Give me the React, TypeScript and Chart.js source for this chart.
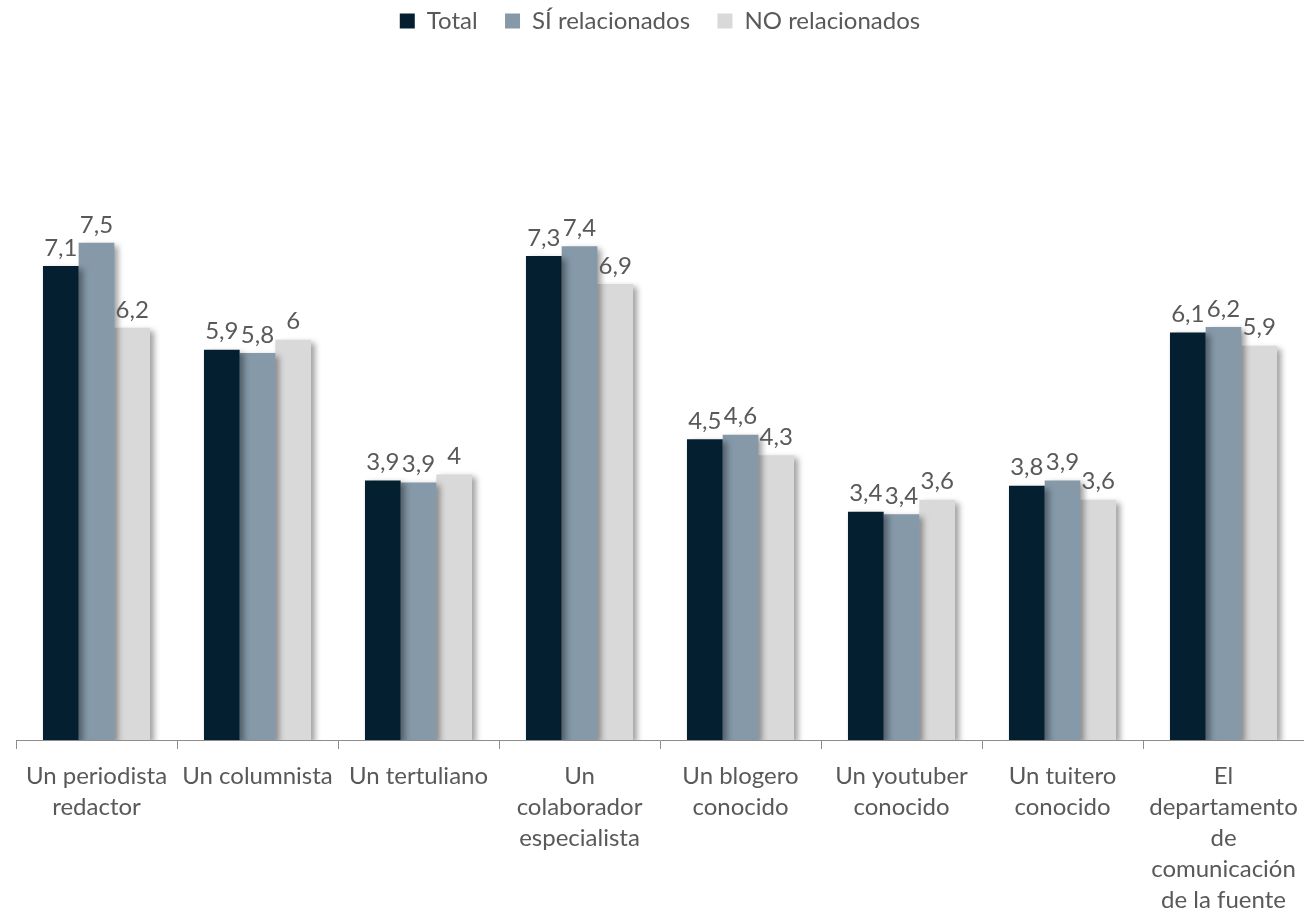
import React, { useEffect, useRef } from "react";
import { Chart, registerables } from "chart.js";

Chart.register(...registerables);

const categories: string[][] = [
  ["Un periodista", "redactor"],
  ["Un columnista"],
  ["Un tertuliano"],
  ["Un", "colaborador", "especialista"],
  ["Un blogero", "conocido"],
  ["Un youtuber", "conocido"],
  ["Un tuitero", "conocido"],
  ["El", "departamento", "de", "comunicación", "de la fuente"],
];

const seriesNames = ["Total", "SÍ relacionados", "NO relacionados"];
const totalValues = [7.14, 5.88, 3.91, 7.29, 4.53, 3.44, 3.83, 6.14];
const siValues = [7.49, 5.83, 3.88, 7.44, 4.6, 3.4, 3.91, 6.22];
const noValues = [6.21, 6.03, 4.0, 6.87, 4.29, 3.62, 3.62, 5.94];
const seriesColors = ["#031F30", "#8599A8", "#D9D9D9"];

const FONT = "Lato, 'Noto Sans', sans-serif";
const TEXT_COLOR = "#595959";

function fmt(v: number): string {
  const r = Math.round(v * 10) / 10;
  return String(r).replace(".", ",");
}

const shadowLabelPlugin = {
  id: "shadowLabels",
  beforeDatasetsDraw(chart: any) {
    const ctx = chart.ctx;
    ctx.save();
    ctx.shadowColor = "rgba(0,0,0,0.38)";
    ctx.shadowBlur = 6;
    ctx.shadowOffsetX = 4;
    ctx.shadowOffsetY = 3;
  },
  afterDatasetsDraw(chart: any) {
    const ctx = chart.ctx;
    ctx.restore();
    ctx.save();
    ctx.fillStyle = TEXT_COLOR;
    ctx.font = `24px ${FONT}`;
    ctx.textAlign = "center";
    ctx.textBaseline = "bottom";
    chart.data.datasets.forEach((ds: any, i: number) => {
      const meta = chart.getDatasetMeta(i);
      meta.data.forEach((el: any, j: number) => {
        ctx.fillText(fmt(ds.data[j]), el.x, el.y - 6);
      });
    });
    ctx.restore();
  },
};

export default function App() {
  const ref = useRef<HTMLCanvasElement | null>(null);
  useEffect(() => {
    if (!ref.current) return;
    const chart = new Chart(ref.current, {
      type: "bar",
      data: {
        labels: categories,
        datasets: [totalValues, siValues, noValues].map((d, i) => ({
          label: seriesNames[i],
          data: d,
          backgroundColor: seriesColors[i],
          borderWidth: 0,
          categoryPercentage: 0.665,
          barPercentage: 1,
        })),
      },
      options: {
        animation: false,
        responsive: true,
        maintainAspectRatio: false,
        layout: { padding: { left: 16, right: 0, top: 0, bottom: 0 } },
        plugins: {
          legend: {
            position: "top",
            labels: {
              boxWidth: 15,
              boxHeight: 15,
              padding: 9,
              color: TEXT_COLOR,
              font: { family: FONT, size: 24 },
              generateLabels(chart: any) {
                const items = Chart.defaults.plugins.legend.labels.generateLabels(chart);
                return items.map((it: any, i: number) => ({
                  ...it,
                  text: i < items.length - 1 ? it.text + "   " : it.text,
                  lineWidth: 0,
                }));
              },
            },
          },
          tooltip: { enabled: false },
        },
        scales: {
          y: {
            display: false,
            min: 0,
            max: 10.5,
          },
          x: {
            grid: {
              drawOnChartArea: false,
              drawTicks: true,
              tickLength: 9,
              color: "#8C8C8C",
              offset: true,
            },
            border: { color: "#8C8C8C", width: 1 },
            ticks: {
              color: TEXT_COLOR,
              font: { family: FONT, size: 24, lineHeight: 1.29 },
              maxRotation: 0,
              autoSkip: false,
              padding: 12,
            },
            afterFit(scale: any) {
              scale.height = 177;
              scale.paddingLeft = 0;
              scale.paddingRight = 0;
            },
          },
        },
      },
      plugins: [shadowLabelPlugin],
    });
    return () => chart.destroy();
  }, []);
  return (
    <div style={{ position: "absolute", left: 0, top: 0, width: 1304, height: 917, background: "#fff" }}>
      <canvas ref={ref} />
    </div>
  );
}
